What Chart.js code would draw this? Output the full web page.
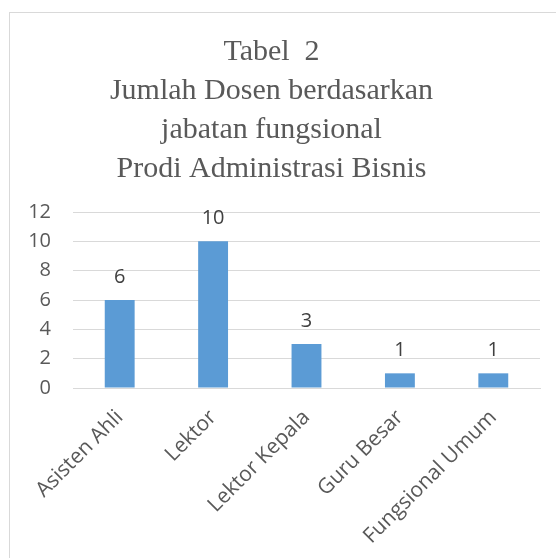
<!DOCTYPE html>
<html>
<head>
<meta charset="utf-8">
<script src="https://cdn.jsdelivr.net/npm/chart.js@4/dist/chart.umd.min.js"></script>
<style>
html,body{margin:0;padding:0;background:#fff;width:556px;height:558px;overflow:hidden;}
#frame{position:absolute;left:9px;top:12px;width:600px;height:600px;border:1px solid #d9d9d9;box-sizing:border-box;}
#wrap{position:absolute;left:0;top:0;width:556px;height:558px;}
</style>
</head>
<body>
<div id="frame"></div>
<div id="wrap"><canvas id="c" width="556" height="558"></canvas></div>
<script>
const titleLines = ["Tabel  2", "Jumlah Dosen berdasarkan", "jabatan fungsional", "Prodi Administrasi Bisnis"];
const categories = ["Asisten Ahli", "Lektor", "Lektor Kepala", "Guru Besar", "Fungsional Umum"];
const values = [6, 10, 3, 1, 1];
const yTicks = [0, 2, 4, 6, 8, 10, 12];

const valueLabels = {
  id: 'valueLabels',
  afterDatasetsDraw(chart) {
    const ctx = chart.ctx;
    const meta = chart.getDatasetMeta(0);
    ctx.save();
    ctx.font = '20px "Open Sans"';
    ctx.fillStyle = '#404040';
    ctx.textAlign = 'center';
    ctx.textBaseline = 'alphabetic';
    meta.data.forEach((bar, i) => {
      ctx.fillText(String(values[i]), bar.x, bar.y - 17);
    });
    ctx.restore();
  }
};

new Chart(document.getElementById('c'), {
  type: 'bar',
  data: {
    labels: categories,
    datasets: [{
      data: values,
      backgroundColor: '#5b9bd5',
      borderWidth: 0,
      barPercentage: 0.32,
      categoryPercentage: 1.0
    }]
  },
  options: {
    responsive: false,
    animation: false,
    layout: { padding: { left: 3, right: 16, top: 33, bottom: 0 } },
    plugins: {
      legend: { display: false },
      tooltip: { enabled: false },
      title: {
        display: true,
        text: titleLines,
        color: '#595959',
        font: { family: '"Liberation Serif"', size: 30, weight: 'normal', lineHeight: 1.3 },
        padding: { top: 0, bottom: 23 }
      }
    },
    scales: {
      x: {
        grid: { display: false },
        border: { display: true, color: '#d9d9d9' },
        afterFit(scale) { scale.height = 170; scale.paddingLeft = 0; scale.paddingRight = 0; },
        ticks: {
          color: '#595959',
          font: { family: '"Open Sans"', size: 21 },
          minRotation: 45,
          maxRotation: 45,
          padding: 9
        }
      },
      y: {
        min: 0,
        max: 12,
        afterBuildTicks(axis) { axis.ticks = yTicks.map(v => ({ value: v })); },
        afterFit(scale) { scale.width = 70; },
        grid: { color: '#d9d9d9', lineWidth: 1, drawTicks: false },
        border: { display: false },
        ticks: {
          color: '#595959',
          font: { family: '"Open Sans"', size: 20 },
          padding: 22
        }
      }
    }
  },
  plugins: [valueLabels]
});
</script>
</body>
</html>
